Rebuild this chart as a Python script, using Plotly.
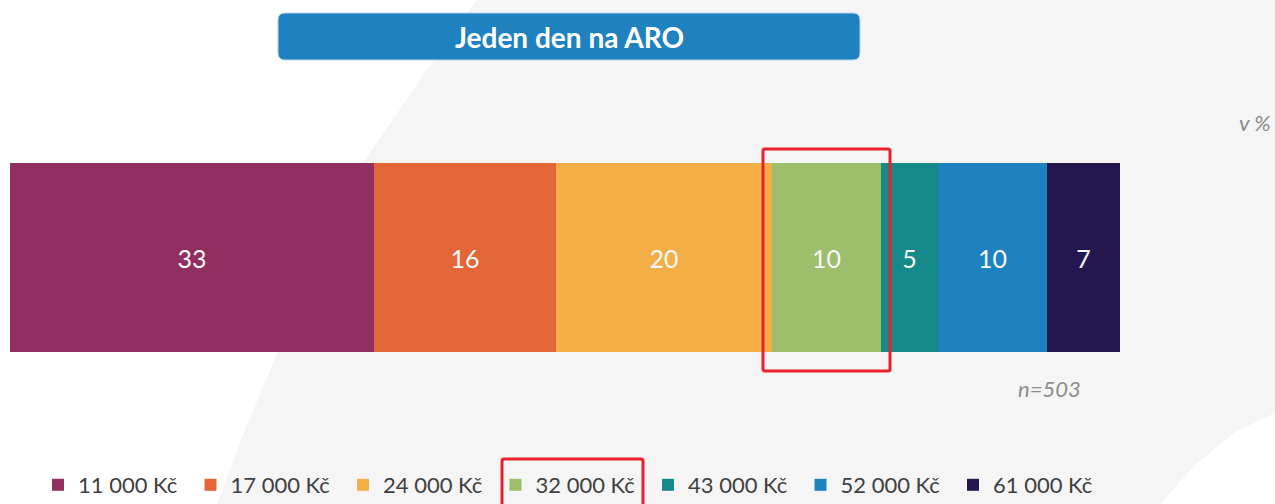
import plotly.graph_objects as go

# data
categories = ['11 000 Kč', '17 000 Kč', '24 000 Kč', '32 000 Kč', '43 000 Kč', '52 000 Kč', '61 000 Kč']
shares = [32.8, 16.3, 19.5, 9.8, 5.1, 9.8, 6.6]  # segment widths, estimated from the bar
labels = ['33', '16', '20', '10', '5', '10', '7']
colors = ['#912f60', '#e26637', '#f4ae46', '#9dbf6c', '#168a8a', '#1e82c0', '#241750']

W, H = 1275, 504
L, R, T, B = 10, 1120, 163, 352


def px(x):
    return (x - L) / (R - L)


def py(y):
    return (B - y) / (B - T)


def poly(points, close=True):
    d = 'M ' + ' L '.join(f'{px(x):.5f},{py(y):.5f}' for x, y in points)
    return d + (' Z' if close else '')


def rounded(x0, y0, x1, y1, r):
    pts = [
        f'M {px(x0 + r):.5f},{py(y0):.5f}',
        f'L {px(x1 - r):.5f},{py(y0):.5f}',
        f'Q {px(x1):.5f},{py(y0):.5f} {px(x1):.5f},{py(y0 + r):.5f}',
        f'L {px(x1):.5f},{py(y1 - r):.5f}',
        f'Q {px(x1):.5f},{py(y1):.5f} {px(x1 - r):.5f},{py(y1):.5f}',
        f'L {px(x0 + r):.5f},{py(y1):.5f}',
        f'Q {px(x0):.5f},{py(y1):.5f} {px(x0):.5f},{py(y1 - r):.5f}',
        f'L {px(x0):.5f},{py(y0 + r):.5f}',
        f'Q {px(x0):.5f},{py(y0):.5f} {px(x0 + r):.5f},{py(y0):.5f}',
        'Z',
    ]
    return ' '.join(pts)


fig = go.Figure()

for cat, val, lab, col in zip(categories, shares, labels, colors):
    fig.add_trace(go.Bar(
        x=[val], y=[''], orientation='h', name=cat,
        marker=dict(color=col, line=dict(width=0)),
        text=[lab], textposition='inside', insidetextanchor='middle',
        textfont=dict(color='#f7f7f7', size=25, family='Lato'),
        hoverinfo='skip',
    ))

# background sweep
bg_path = poly([(477, 0), (420, 80), (363, 163), (318, 260), (278, 352), (245, 430), (217, 504),
                (1160, 504), (1195, 465), (1235, 432), (1275, 413), (1275, 0)])

shapes = [
    dict(type='path', xref='paper', yref='paper', path=bg_path,
         fillcolor='#f5f5f5', line=dict(width=0), layer='below'),
    dict(type='path', xref='paper', yref='paper', path=rounded(278, 13, 860, 60, 7),
         fillcolor='#1e82c0', line=dict(color='#b9d6ea', width=1), layer='below'),
    # highlights
    dict(type='path', xref='paper', yref='paper', path=rounded(763, 149, 890, 371, 2),
         fillcolor='rgba(0,0,0,0)', line=dict(color='#e8202a', width=3), layer='above'),
    dict(type='path', xref='paper', yref='paper', path=rounded(502, 459, 643, 510, 2),
         fillcolor='rgba(0,0,0,0)', line=dict(color='#e8202a', width=3), layer='above'),
]

annotations = [
    dict(text='<b>Jeden den na ARO</b>', x=px(569), y=py(37), xref='paper', yref='paper',
         xanchor='center', yanchor='middle',
         showarrow=False, font=dict(color='white', size=28, family='Lato')),
    dict(text='<i>v %</i>', x=px(1273), y=py(122), xref='paper', yref='paper',
         xanchor='right', yanchor='middle',
         showarrow=False, font=dict(color='#8c8c8c', size=22, family='Lato')),
    dict(text='<i>n=503</i>', x=px(1083), y=py(388), xref='paper', yref='paper',
         xanchor='right', yanchor='middle',
         showarrow=False, font=dict(color='#8c8c8c', size=22, family='Lato')),
]

fig.update_layout(
    width=W, height=H,
    margin=dict(l=L, r=W - R, t=T, b=H - B, pad=0, autoexpand=False),
    barmode='stack', bargap=0,
    paper_bgcolor='white', plot_bgcolor='rgba(0,0,0,0)',
    xaxis=dict(range=[0, sum(shares)], visible=False, fixedrange=True),
    yaxis=dict(range=[-0.5, 0.5], visible=False, fixedrange=True),
    showlegend=True,
    legend=dict(orientation='h', x=px(38), y=py(485), xanchor='left', yanchor='middle',
                traceorder='normal', entrywidth=107.5, entrywidthmode='pixels',
                font=dict(color='#404040', size=22, family='Lato'),
                bgcolor='rgba(0,0,0,0)'),
    shapes=shapes, annotations=annotations,
    font=dict(family='Lato'),
)

fig.write_html('out.html', config={'displayModeBar': False},
               post_script="document.body.style.margin='0';")
